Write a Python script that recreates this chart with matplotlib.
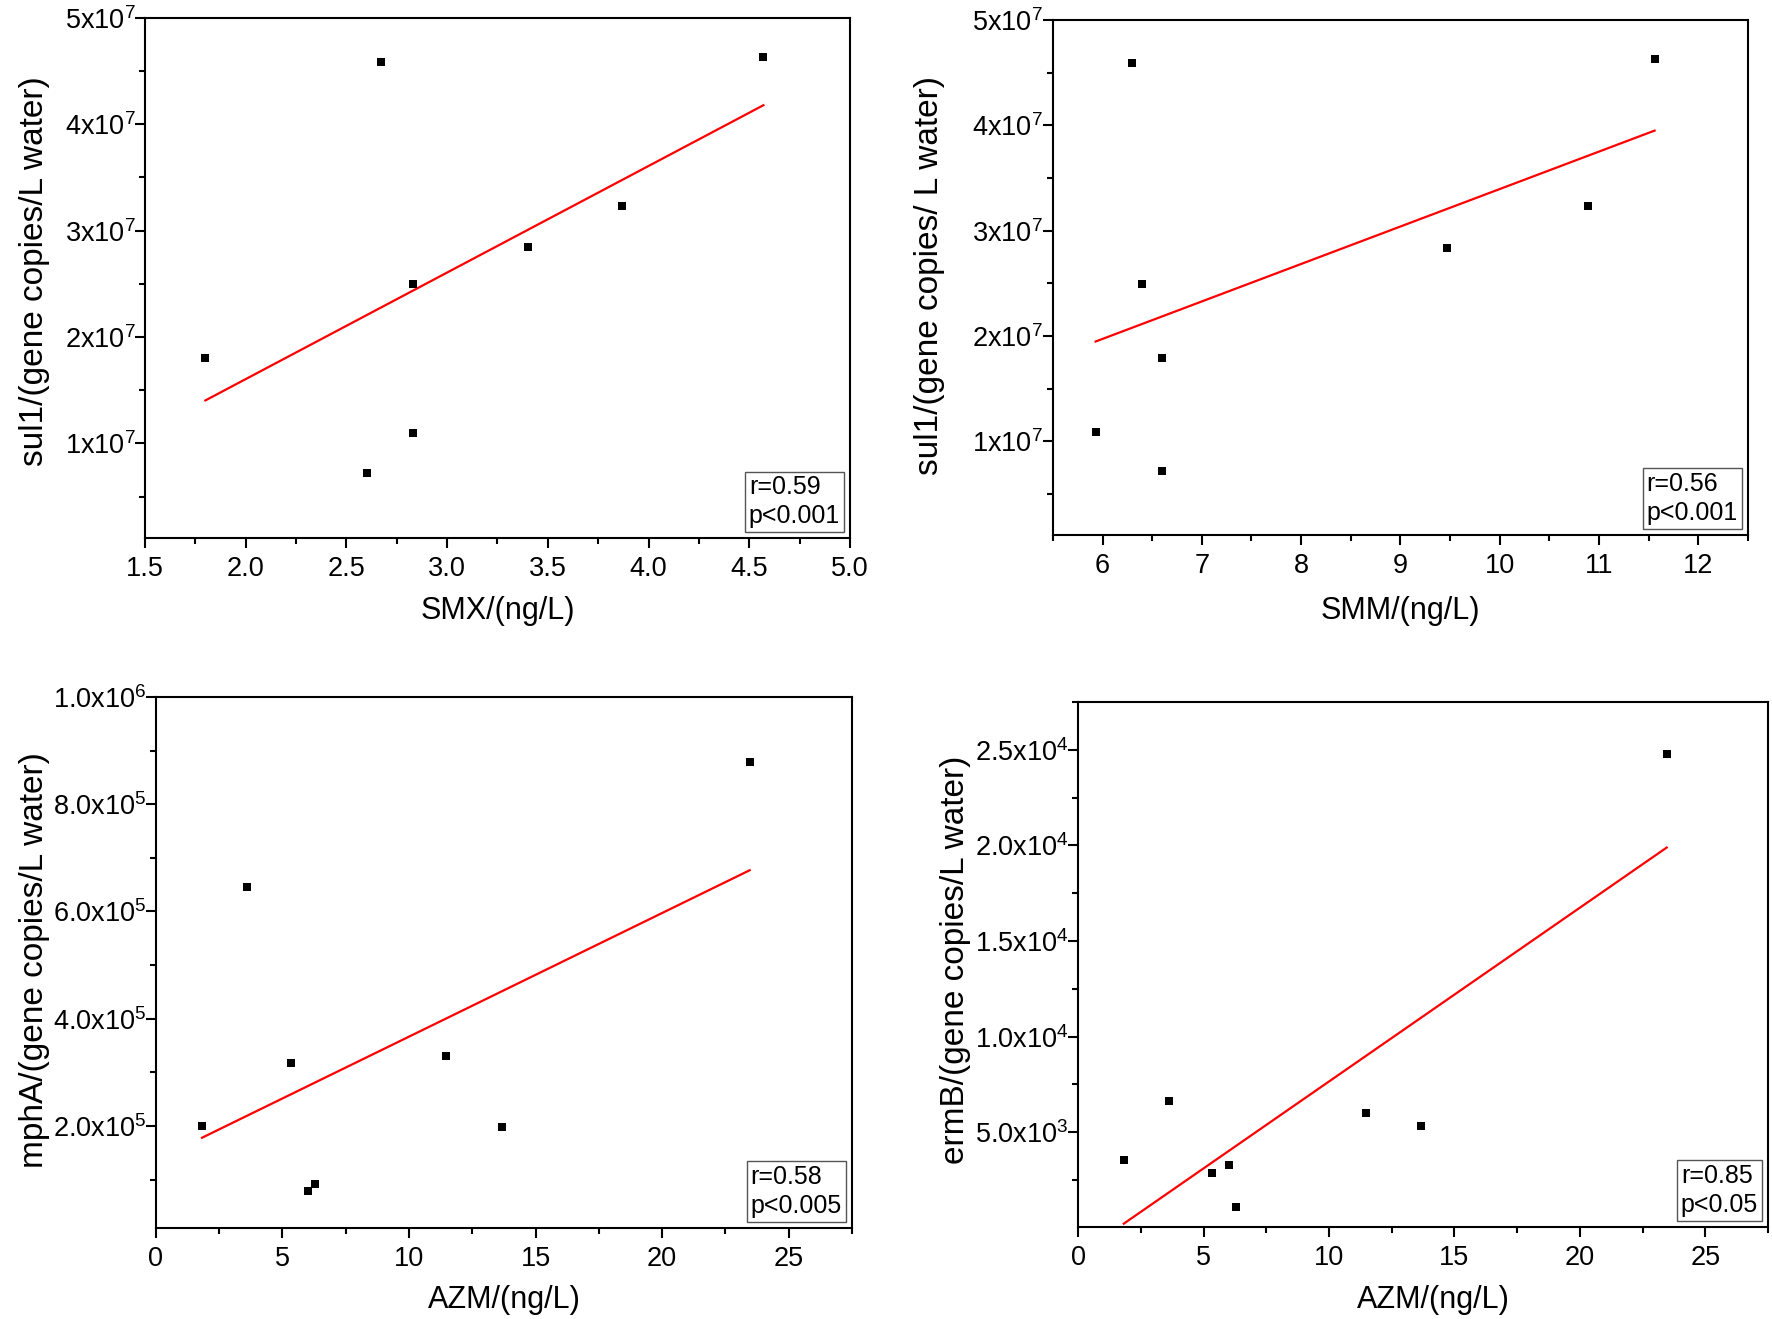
import numpy as np
import matplotlib
matplotlib.use("Agg")
import matplotlib.pyplot as plt
from matplotlib.ticker import AutoMinorLocator
from matplotlib.offsetbox import AnchoredText

plt.rcParams["font.family"] = ["Liberation Sans", "DejaVu Sans"]
plt.rcParams["mathtext.fontset"] = "custom"
plt.rcParams["mathtext.rm"] = "Liberation Sans"
plt.rcParams["mathtext.it"] = "Liberation Sans:italic"
plt.rcParams["mathtext.default"] = "regular"

# --- data ---
smx = [2.67, 4.57, 3.87, 3.40, 2.83, 1.80, 2.83, 2.60]
sul1_smx = [4.59e7, 4.63e7, 3.23e7, 2.85e7, 2.50e7, 1.80e7, 1.10e7, 0.72e7]

smm = [6.30, 11.56, 10.89, 9.47, 6.40, 6.60, 5.93, 6.60]
sul1_smm = [4.59e7, 4.63e7, 3.23e7, 2.84e7, 2.49e7, 1.79e7, 1.09e7, 0.72e7]

azm = [23.46, 3.61, 5.35, 11.46, 1.82, 13.67, 6.01, 6.29]
mpha = [8.79e5, 6.45e5, 3.18e5, 3.30e5, 2.00e5, 1.98e5, 0.78e5, 0.92e5]
ermb = [24800, 6650, 2890, 6030, 3570, 5310, 3310, 1110]

sul1_ticks = [1e7, 2e7, 3e7, 4e7, 5e7]
sul1_labels = [r"1x10$^{7}$", r"2x10$^{7}$", r"3x10$^{7}$", r"4x10$^{7}$", r"5x10$^{7}$"]
mpha_ticks = [2e5, 4e5, 6e5, 8e5, 1e6]
mpha_labels = [r"2.0x10$^{5}$", r"4.0x10$^{5}$", r"6.0x10$^{5}$", r"8.0x10$^{5}$", r"1.0x10$^{6}$"]
ermb_ticks = [5e3, 1e4, 1.5e4, 2e4, 2.5e4]
ermb_labels = [r"5.0x10$^{3}$", r"1.0x10$^{4}$", r"1.5x10$^{4}$", r"2.0x10$^{4}$", r"2.5x10$^{4}$"]

smx_ticks = [1.5, 2.0, 2.5, 3.0, 3.5, 4.0, 4.5, 5.0]
smm_ticks = [6, 7, 8, 9, 10, 11, 12]
azm_ticks = [0, 5, 10, 15, 20, 25]

stats = ["r=0.59\np<0.001", "r=0.56\np<0.001", "r=0.58\np<0.005", "r=0.85\np<0.05"]


def draw_panel(ax, x, y, xlim, ylim, xticks, yticks, ylabels, xlabel, ylabel,
               stat, ylab_xy, xlab_xy):
    x = np.asarray(x)
    y = np.asarray(y)
    ax.scatter(x, y, marker="s", s=26, color="black", linewidths=0, zorder=3)

    # least squares fit over the data range
    k, b = np.polyfit(x, y, 1)
    xs = np.array([x.min(), x.max()])
    ax.plot(xs, k * xs + b, color="red", lw=1.6, zorder=2)

    ax.set_xlim(*xlim)
    ax.set_ylim(*ylim)
    ax.set_xticks(xticks)
    ax.set_xticklabels([f"{t:g}" if isinstance(t, int) else f"{t:.1f}" for t in xticks])
    ax.set_yticks(yticks)
    ax.set_yticklabels(ylabels)
    ax.xaxis.set_minor_locator(AutoMinorLocator(2))
    ax.yaxis.set_minor_locator(AutoMinorLocator(2))
    ax.tick_params(which="major", direction="out", length=7, width=1.5,
                   labelsize=19.5, pad=6, top=False, right=False)
    ax.tick_params(axis="y", which="major", pad=0)
    ax.tick_params(which="minor", direction="out", length=4.5, width=1.5,
                   top=False, right=False)
    for sp in ax.spines.values():
        sp.set_linewidth(1.5)

    ax.set_xlabel(xlabel, fontsize=22)
    ax.set_ylabel(ylabel, fontsize=24)
    ax.xaxis.label.set_verticalalignment("center")
    ax.yaxis.label.set_verticalalignment("center")
    ax.xaxis.set_label_coords(*xlab_xy)
    ax.yaxis.set_label_coords(*ylab_xy)

    at = AnchoredText(stat, loc="lower right", prop=dict(size=18, linespacing=1.25),
                      frameon=True, pad=0.15, borderpad=0.25)
    at.patch.set_edgecolor("#555555")
    at.patch.set_linewidth(1.0)
    ax.add_artist(at)


fig = plt.figure(figsize=(17.72, 13.19), dpi=100)

ax1 = fig.add_axes([0.0818, 0.5921, 0.3979, 0.3943])
ax2 = fig.add_axes([0.5942, 0.5944, 0.3922, 0.3904])
ax3 = fig.add_axes([0.0880, 0.0690, 0.3928, 0.4026])
ax4 = fig.add_axes([0.6084, 0.0698, 0.3894, 0.3980])

draw_panel(ax1, smx, sul1_smx, (1.5, 5.0), (1.1e6, 5e7), smx_ticks, sul1_ticks, sul1_labels,
           "SMX/(ng/L)", "sul1/(gene copies/L water)", stats[0],
           (-0.157, 0.513), (0.5, -0.14))
draw_panel(ax2, smm, sul1_smm, (5.5, 12.5), (1.1e6, 5e7), smm_ticks, sul1_ticks, sul1_labels,
           "SMM/(ng/L)", "sul1/(gene copies/ L water)", stats[1],
           (-0.177, 0.503), (0.5, -0.148))
draw_panel(ax3, azm, mpha, (0, 27.5), (9.6e3, 1e6), azm_ticks, mpha_ticks, mpha_labels,
           "AZM/(ng/L)", "mphA/(gene copies/L water)", stats[2],
           (-0.175, 0.505), (0.5, -0.136))
draw_panel(ax4, azm, ermb, (0, 27.5), (50, 2.75e4), azm_ticks, ermb_ticks, ermb_labels,
           "AZM/(ng/L)", "ermB/(gene copies/L water)", stats[3],
           (-0.178, 0.509), (0.515, -0.139))

fig.savefig("out.png", dpi=100)
